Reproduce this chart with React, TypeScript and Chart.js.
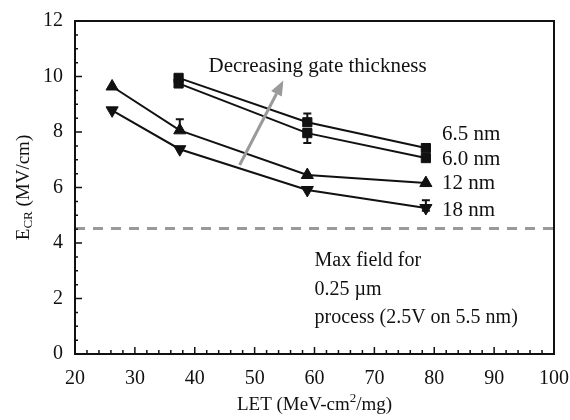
import React, { useEffect, useRef } from "react";
import { Chart, registerables } from "chart.js";
Chart.register(...registerables);

// ---- data ----
const LET_SQ = [37.3, 58.8, 78.6];
const E_65 = [9.95, 8.35, 7.42];
const E_60 = [9.75, 7.96, 7.06];
const LET_TRI = [26.2, 37.5, 58.8, 78.6];
const E_12 = [9.64, 8.06, 6.45, 6.16];
const E_18 = [8.78, 7.38, 5.91, 5.26];
const ERR_65_UP = [0, 0.32, 0.08];
const ERR_60_DN = [0, 0.36, 0.1];
const ERR_12_UP = [0, 0.4, 0, 0];
const ERR_18_UP = [0, 0, 0, 0.28];
const ERR_18_DN = [0, 0, 0, 0.1];
const MAX_FIELD = 4.52;
const X_RANGE = [20, 100];
const Y_RANGE = [0, 12];
const SERIES_LABELS = ["6.5 nm", "6.0 nm", "12 nm", "18 nm"];
const ARROW_TEXT = "Decreasing gate thickness";
const NOTE_LINES = ["Max field for", "0.25 \u00b5m", "process (2.5V on 5.5 nm)"];

const FONT = "'Liberation Serif', 'Times New Roman', serif";
const INK = "#111";

const pts = (xs: number[], ys: number[]) => xs.map((x, i) => ({ x, y: ys[i] }));

const decorPlugin = {
  id: "decor",
  afterDatasetsDraw(chart: any) {
    const { ctx, chartArea: a, scales } = chart;
    const xs = scales.x, ys = scales.y;
    const px = (v: number) => xs.getPixelForValue(v);
    const py = (v: number) => ys.getPixelForValue(v);
    ctx.save();

    // error bars
    const drawErr = (xv: number[], yv: number[], up: number[], dn: number[]) => {
      ctx.strokeStyle = INK;
      ctx.lineWidth = 2;
      xv.forEach((x, i) => {
        const u = up[i] || 0, d = dn[i] || 0;
        if (!u && !d) return;
        const X = px(x);
        const top = py(yv[i] + u), bot = py(yv[i] - d);
        ctx.beginPath();
        ctx.moveTo(X, top); ctx.lineTo(X, bot);
        if (u) { ctx.moveTo(X - 4, top); ctx.lineTo(X + 4, top); }
        if (d) { ctx.moveTo(X - 4, bot); ctx.lineTo(X + 4, bot); }
        ctx.stroke();
      });
    };
    drawErr(LET_SQ, E_65, ERR_65_UP, [0, 0, 0]);
    drawErr(LET_SQ, E_60, [0, 0, 0], ERR_60_DN);
    drawErr(LET_TRI, E_12, ERR_12_UP, [0, 0, 0, 0]);
    drawErr(LET_TRI, E_18, ERR_18_UP, ERR_18_DN);

    // frame
    ctx.strokeStyle = INK;
    ctx.lineWidth = 2;
    ctx.strokeRect(a.left, a.top, a.right - a.left, a.bottom - a.top);

    // inward ticks
    ctx.lineWidth = 1.5;
    ctx.beginPath();
    for (let v = X_RANGE[0]; v <= X_RANGE[1]; v += 2) {
      const L = v % 10 === 0 ? 7 : 4;
      const X = px(v);
      ctx.moveTo(X, a.bottom); ctx.lineTo(X, a.bottom - L);
    }
    for (let v = Y_RANGE[0]; v <= Y_RANGE[1] + 1e-6; v += 0.5) {
      const L = Math.abs(v % 2) < 1e-6 ? 7 : 3;
      const Y = py(v);
      ctx.moveTo(a.left, Y); ctx.lineTo(a.left + L, Y);
    }
    ctx.stroke();

    // series labels
    ctx.fillStyle = INK;
    ctx.font = `21px ${FONT}`;
    ctx.textAlign = "left";
    ctx.textBaseline = "middle";
    const labY = [7.9, 7.0, 6.13, 5.16];
    SERIES_LABELS.forEach((t, i) => ctx.fillText(t, px(81.3), py(labY[i])));

    // arrow
    const x0 = px(47.5), y0 = py(6.81), x1 = px(54.8), y1 = py(9.86);
    const ang = Math.atan2(y1 - y0, x1 - x0);
    const hl = 15, hw = 6;
    ctx.strokeStyle = "#9a9a9a";
    ctx.fillStyle = "#9a9a9a";
    ctx.lineWidth = 3;
    ctx.beginPath();
    ctx.moveTo(x0, y0);
    ctx.lineTo(x1 - Math.cos(ang) * hl, y1 - Math.sin(ang) * hl);
    ctx.stroke();
    ctx.beginPath();
    ctx.moveTo(x1, y1);
    ctx.lineTo(x1 - Math.cos(ang) * hl - Math.sin(ang) * hw, y1 - Math.sin(ang) * hl + Math.cos(ang) * hw);
    ctx.lineTo(x1 - Math.cos(ang) * hl + Math.sin(ang) * hw, y1 - Math.sin(ang) * hl - Math.cos(ang) * hw);
    ctx.closePath();
    ctx.fill();

    ctx.fillStyle = INK;
    ctx.font = `21px ${FONT}`;
    ctx.fillText(ARROW_TEXT, px(42.3), py(10.35));

    // note
    ctx.font = `20px ${FONT}`;
    const noteY = [3.35, 2.3, 1.3];
    NOTE_LINES.forEach((t, i) => ctx.fillText(t, px(60), py(noteY[i])));

    // y title with subscript
    ctx.save();
    ctx.translate(24, (a.top + a.bottom) / 2);
    ctx.rotate(-Math.PI / 2);
    ctx.textBaseline = "middle";
    const fBig = `19px ${FONT}`, fSmall = `13px ${FONT}`;
    ctx.font = fBig; const wE = ctx.measureText("E").width;
    ctx.font = fSmall; const wC = ctx.measureText("CR").width;
    ctx.font = fBig; const wR = ctx.measureText(" (MV/cm)").width;
    let sx = -(wE + wC + wR) / 2;
    ctx.textAlign = "left";
    ctx.font = fBig; ctx.fillText("E", sx, 0); sx += wE;
    ctx.font = fSmall; ctx.fillText("CR", sx, 5); sx += wC;
    ctx.font = fBig; ctx.fillText(" (MV/cm)", sx, 0);
    ctx.restore();

    // x title with superscript
    {
      const cx = (a.left + a.right) / 2, cy = 405;
      ctx.textBaseline = "middle";
      ctx.font = fBig; const w1 = ctx.measureText("LET (MeV-cm").width;
      ctx.font = fSmall; const w2 = ctx.measureText("2").width;
      ctx.font = fBig; const w3 = ctx.measureText("/mg)").width;
      let sx2 = cx - (w1 + w2 + w3) / 2;
      ctx.font = fBig; ctx.fillText("LET (MeV-cm", sx2, cy); sx2 += w1;
      ctx.font = fSmall; ctx.fillText("2", sx2, cy - 6); sx2 += w2;
      ctx.font = fBig; ctx.fillText("/mg)", sx2, cy);
    }
    ctx.restore();
  },
};

export default function App() {
  const ref = useRef<HTMLCanvasElement | null>(null);
  useEffect(() => {
    if (!ref.current) return;
    const line = (label: string, data: any, style: string, rot = 0, r = 7) => ({
      label,
      data,
      showLine: true,
      borderColor: INK,
      backgroundColor: INK,
      borderWidth: 2,
      pointStyle: style,
      pointRotation: rot,
      pointRadius: r,
      pointBorderWidth: 1,
      pointBackgroundColor: INK,
      pointBorderColor: INK,
    });
    const chart = new Chart(ref.current, {
      type: "scatter",
      data: {
        datasets: [
          {
            label: "max",
            data: [{ x: X_RANGE[0], y: MAX_FIELD }, { x: X_RANGE[1], y: MAX_FIELD }],
            showLine: true,
            borderColor: "#9a9a9a",
            borderWidth: 3,
            borderDash: [10, 8],
            pointRadius: 0,
          },
          line(SERIES_LABELS[0], pts(LET_SQ, E_65), "rect", 0, 6.5),
          line(SERIES_LABELS[1], pts(LET_SQ, E_60), "rect", 0, 6.5),
          line(SERIES_LABELS[2], pts(LET_TRI, E_12), "triangle", 0, 7),
          line(SERIES_LABELS[3], pts(LET_TRI, E_18), "triangle", 180, 7),
        ],
      },
      options: {
        responsive: false,
        animation: false,
        devicePixelRatio: 1,
        layout: { padding: { top: 21, right: 16, left: 0, bottom: 0 } },
        plugins: { legend: { display: false }, tooltip: { enabled: false } },
        scales: {
          x: {
            type: "linear",
            min: X_RANGE[0],
            max: X_RANGE[1],
            grid: { display: false, drawTicks: false },
            border: { display: false },
            ticks: { stepSize: 10, padding: 13, color: INK, font: { family: FONT, size: 20 } },
            afterFit: (s: any) => { s.height = 66; s.paddingRight = 0; s.paddingLeft = 0; },
          },
          y: {
            type: "linear",
            min: Y_RANGE[0],
            max: Y_RANGE[1],
            grid: { display: false, drawTicks: false },
            border: { display: false },
            ticks: { stepSize: 2, padding: 12, color: INK, font: { family: FONT, size: 20 } },
            afterFit: (s: any) => { s.width = 75; s.paddingTop = 0; s.paddingBottom = 0; },
          },
        },
      },
      plugins: [decorPlugin],
    } as any);
    return () => chart.destroy();
  }, []);
  return (
    <div style={{ position: "absolute", left: 0, top: 0, width: 570, height: 420, background: "#fff" }}>
      <canvas ref={ref} width={570} height={420} />
    </div>
  );
}
